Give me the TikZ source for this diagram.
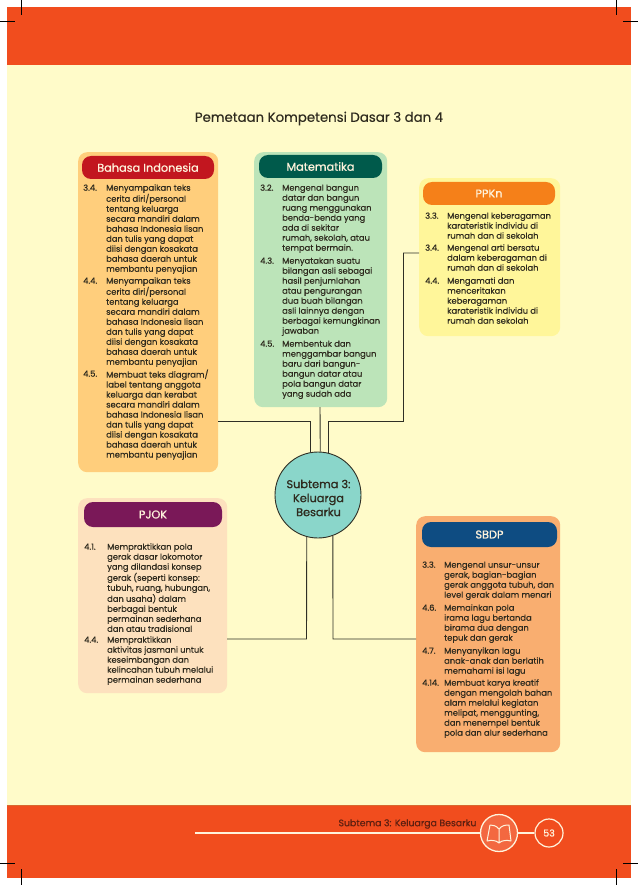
\documentclass[tikz,border=0pt]{standalone}
\usepackage{fontspec}
\setmainfont{Poppins}
\newfontfamily\semi{Poppins}[FakeBold=0.35]
\newfontfamily\heavy{Poppins}[FakeBold=0.9]
\definecolor{pagebg}{HTML}{FFFBC9}
\definecolor{band}{HTML}{F14D1E}
\definecolor{bandedge}{HTML}{D8682F}
\definecolor{ink}{HTML}{2E2A1E}
\definecolor{wire}{HTML}{2F2F25}
\definecolor{cbi}{HTML}{FFCE7C}\definecolor{hbi}{HTML}{C2161F}
\definecolor{cma}{HTML}{BCE4B9}\definecolor{hma}{HTML}{005A4B}
\definecolor{cpp}{HTML}{FFF69A}\definecolor{hpp}{HTML}{F58019}
\definecolor{cpj}{HTML}{FDE1BE}\definecolor{hpj}{HTML}{7A1858}
\definecolor{csb}{HTML}{F9AE70}\definecolor{hsb}{HTML}{0E4C82}
\definecolor{ccirc}{HTML}{8AD6CA}
\definecolor{foot}{HTML}{5E1F10}
\definecolor{cream}{HTML}{FFF3DC}
\tikzset{
  card/.style={anchor=north west,inner sep=0pt,rounded corners=9pt,draw=none},
  head/.style={anchor=center,inner sep=0pt,rounded corners=9pt,text=cream,font=\heavy\fontsize{11.3}{12}\selectfont},
  itemtext/.style={anchor=north west,inner sep=0pt,align=left,text=ink,font=\semi\fontsize{8.35}{10}\selectfont},
  wirestyle/.style={draw=wire,line width=0.9pt},
  crop/.style={draw=black,line width=0.7pt}
}
\newcommand{\st}{\rule{0pt}{7pt}}
\begin{document}
\begin{tikzpicture}[x=1pt,y=-1pt]
\useasboundingbox (0,0) rectangle (638,885);
\fill[white] (0,0) rectangle (638,885);
\fill[pagebg] (7,7) rectangle (631,878);
\fill[band] (7,7) rectangle (631,65.5);
\fill[bandedge] (7,804.5) rectangle (631,806);
\fill[band] (7,806) rectangle (631,878);
% crop marks
\draw[crop] (21.5,0) -- (21.5,15);
\draw[crop] (0,21) -- (15,21);
\draw[crop] (616.5,0) -- (616.5,15);
\draw[crop] (623,21) -- (638,21);
\draw[crop] (0,863) -- (15,863);
\draw[crop] (21,869) -- (21,885);
\draw[crop] (623,863) -- (638,863);
\draw[crop] (616.5,869) -- (616.5,885);

\node[anchor=center,inner sep=0pt,text=ink,font=\semi\fontsize{13.3}{15}\selectfont] (title) at (319,118.5) {Pemetaan Kompetensi Dasar 3 dan 4};

% cards
\node[card,fill=cbi,minimum width=140pt,minimum height=320pt] (bi) at (78,152) {};
\node[card,fill=cma,minimum width=133pt,minimum height=255pt] (ma) at (254,152) {};
\node[card,fill=cpp,minimum width=141pt,minimum height=158pt] (pp) at (419,178) {};
\node[card,fill=cpj,minimum width=149pt,minimum height=195pt] (pj) at (78,498) {};
\node[card,fill=csb,minimum width=144pt,minimum height=236pt] (sb) at (416,516) {};
% headers
\node[head,fill=hbi,minimum width=132pt,minimum height=23pt] (hbi) at (148,167.5) {Bahasa Indonesia};
\node[head,fill=hma,minimum width=123pt,minimum height=23pt] (hma) at (320.5,166.5) {Matematika};
\node[head,fill=hpp,minimum width=132pt,minimum height=23pt] (hpp) at (489,193.5) {PPKn};
\node[head,fill=hpj,minimum width=138pt,minimum height=25pt] (hpj) at (153,514.5) {PJOK};
\node[head,fill=hsb,minimum width=135pt,minimum height=25pt] (hsb) at (489.5,534.5) {SBDP};

% circle
\node[circle,draw=wire,line width=0.9pt,fill=ccirc,minimum size=86pt,inner sep=0pt] (centre) at (318,495) {};
\node[anchor=center,inner sep=0pt,align=center,text=ink,font=\heavy\fontsize{11.3}{14}\selectfont] (centrelabel) at (318.5,498) {Subtema 3:\\Keluarga\\Besarku};

% connector ends
\coordinate (biout) at (218,421.5);
\coordinate (biknee) at (310.5,421.5);
\coordinate (maout) at (320,407);
\coordinate (ppout) at (419,253);
\coordinate (ppa) at (403.5,253);
\coordinate (ppb) at (403.5,421.5);
\coordinate (ppc) at (328.5,421.5);
\coordinate (pjout) at (227,639);
\coordinate (pjknee) at (306.5,639);
\coordinate (sbout) at (416,639);
\coordinate (sbknee) at (333,639);
\draw[wirestyle] (biout) -- (biknee) -- (centre.100);
\draw[wirestyle] (maout) -- (centre.87);
\draw[wirestyle] (ppout) -- (ppa) -- (ppb) -- (ppc) -- (centre.76);
\draw[wirestyle] (pjout) -- (pjknee) -- (centre.255);
\draw[wirestyle] (sbout) -- (sbknee) -- (centre.290);

% Bahasa Indonesia
\node[itemtext] (bin1) at (83,183.5) {\st 3.4.};
\node[itemtext] (bib1) at (106,183.5) {\st Menyampaikan teks\\cerita diri/personal\\tentang keluarga\\secara mandiri dalam\\bahasa Indonesia lisan\\dan tulis yang dapat\\diisi dengan kosakata\\bahasa daerah untuk\\membantu penyajian};
\node[itemtext] (bin2) at (83,276.5) {\st 4.4.};
\node[itemtext] (bib2) at (106,276.5) {\st Menyampaikan teks\\cerita diri/personal\\tentang keluarga\\secara mandiri dalam\\bahasa Indonesia lisan\\dan tulis yang dapat\\diisi dengan kosakata\\bahasa daerah untuk\\membantu penyajian};
\node[itemtext] (bin3) at (83,369.5) {\st 4.5.};
\node[itemtext] (bib3) at (106,369.5) {\st Membuat teks diagram/\\label tentang anggota\\keluarga dan kerabat\\secara mandiri dalam\\bahasa Indonesia lisan\\dan tulis yang dapat\\diisi dengan kosakata\\bahasa daerah untuk\\membantu penyajian};

% Matematika
\node[itemtext] (man1) at (260,183.5) {\st 3.2.};
\node[itemtext] (mab1) at (282,183.5) {\st Mengenal bangun\\datar dan bangun\\ruang menggunakan\\benda-benda yang\\ada di sekitar\\rumah, sekolah, atau\\tempat bermain.};
\node[itemtext] (man2) at (260,256.5) {\st 4.3.};
\node[itemtext] (mab2) at (282,256.5) {\st Menyatakan suatu\\bilangan asli sebagai\\hasil penjumlahan\\atau pengurangan\\dua buah bilangan\\asli lainnya dengan\\berbagai kemungkinan\\jawaban};
\node[itemtext] (man3) at (260,339.5) {\st 4.5.};
\node[itemtext] (mab3) at (282,339.5) {\st Membentuk dan\\menggambar bangun\\baru dari bangun-\\bangun datar atau\\pola bangun datar\\yang sudah ada};

% PPKn
\node[itemtext] (ppn1) at (425,211.5) {\st 3.3.};
\node[itemtext] (ppb1) at (447,211.5) {\st Mengenal keberagaman\\karateristik individu di\\rumah dan di sekolah};
\node[itemtext] (ppn2) at (425,243.5) {\st 3.4.};
\node[itemtext] (ppb2) at (447,243.5) {\st Mengenal arti bersatu\\dalam keberagaman di\\rumah dan di sekolah};
\node[itemtext] (ppn3) at (425,276.5) {\st 4.4.};
\node[itemtext] (ppb3) at (447,276.5) {\st Mengamati dan\\menceritakan\\keberagaman\\karateristik individu di\\rumah dan sekolah};

% PJOK
\node[itemtext] (pjn1) at (84,542.5) {\st 4.1.};
\node[itemtext] (pjb1) at (107,542.5) {\st Mempraktikkan pola\\gerak dasar lokomotor\\yang dilandasi konsep\\gerak (seperti konsep:\\tubuh, ruang, hubungan,\\dan usaha) dalam\\berbagai bentuk\\permainan sederhana\\dan atau tradisional};
\node[itemtext] (pjn2) at (84,635.5) {\st 4.4.};
\node[itemtext] (pjb2) at (107,635.5) {\st Mempraktikkan\\aktivitas jasmani untuk\\keseimbangan dan\\kelincahan tubuh melalui\\permainan sederhana};

% SBDP
\node[itemtext] (sbn1) at (422,560.5) {\st 3.3.};
\node[itemtext] (sbb1) at (444,560.5) {\st Mengenal unsur-unsur\\gerak, bagian-bagian\\gerak anggota tubuh, dan\\level gerak dalam menari};
\node[itemtext] (sbn2) at (422,603.5) {\st 4.6.};
\node[itemtext] (sbb2) at (444,603.5) {\st Memainkan pola\\irama lagu bertanda\\birama dua dengan\\tepuk dan gerak};
\node[itemtext] (sbn3) at (422,646.5) {\st 4.7.};
\node[itemtext] (sbb3) at (444,646.5) {\st Menyanyikan lagu\\anak-anak dan berlatih\\memahami isi lagu};
\node[itemtext] (sbn4) at (422,678.5) {\st 4.14.};
\node[itemtext] (sbb4) at (444,678.5) {\st Membuat karya kreatif\\dengan mengolah bahan\\alam melalui kegiatan\\melipat, menggunting,\\dan menempel bentuk\\pola dan alur sederhana};

% footer
\node[circle,draw=cream,line width=1.3pt,fill=band!85!white,minimum size=37pt,inner sep=0pt] (bookc) at (499,833) {};
\node[circle,draw=cream,line width=1.2pt,fill=band,minimum size=28pt,inner sep=0pt,text=cream,font=\heavy\fontsize{9.5}{11}\selectfont] (pagenum) at (549,833) {53};
\coordinate (rulestart) at (195,833);
\draw[cream,line width=1.3pt] (rulestart) -- (bookc);
\draw[cream,line width=1.3pt] (bookc) -- (pagenum);
\node[anchor=center,inner sep=0pt,text=foot,font=\semi\fontsize{9.35}{11}\selectfont] (foottext) at (407.5,824) {Subtema 3: Keluarga Besarku};
\draw[cream,line width=1pt,line join=round] (499,829) .. controls (496,825.5) and (493,825) .. (490,825) -- (487,841) .. controls (491,840) and (496,840) .. (499,843) .. controls (502,840) and (507,840) .. (511,841) -- (509,825) .. controls (505,825) and (502,825.5) .. (499,829) -- (499,843);
\end{tikzpicture}
\end{document}
